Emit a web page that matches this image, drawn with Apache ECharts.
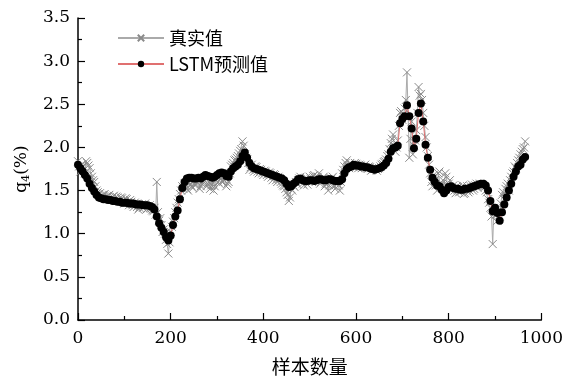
<!DOCTYPE html>
<html>
<head>
<meta charset="utf-8">
<script src="https://cdn.jsdelivr.net/npm/echarts@6/dist/echarts.min.js"></script>
<style>
  html, body { margin: 0; padding: 0; background: #fff; }
  #chart { width: 566px; height: 381px; }
</style>
</head>
<body>
<div id="chart"></div>
<script>
// 样本序号，每5个取一个点
const sampleIdx = [];
for (let i = 0; i <= 965; i += 5) sampleIdx.push(i);

// 真实值（整5处）
const trueVals = [
  1.84, 1.72, 1.78, 1.70, 1.82, 1.76, 1.66, 1.60, 1.50, 1.46,
  1.43, 1.45, 1.41, 1.44, 1.40, 1.43, 1.39, 1.42, 1.38, 1.41,
  1.35, 1.40, 1.33, 1.37, 1.31, 1.34, 1.28, 1.33, 1.30, 1.35,
  1.29, 1.33, 1.27, 1.30, 1.60, 1.15, 1.10, 1.05, 0.93, 0.77,
  1.02, 1.14, 1.25, 1.36, 1.46, 1.55, 1.58, 1.52, 1.60, 1.55,
  1.62, 1.58, 1.63, 1.55, 1.61, 1.66, 1.58, 1.52, 1.60, 1.55,
  1.64, 1.58, 1.68, 1.62, 1.55, 1.60, 1.78, 1.82, 1.86, 1.90,
  1.96, 2.07, 1.92, 1.86, 1.74, 1.80, 1.72, 1.77, 1.70, 1.74,
  1.68, 1.72, 1.66, 1.70, 1.62, 1.68, 1.60, 1.64, 1.58, 1.55,
  1.48, 1.38, 1.52, 1.56, 1.60, 1.62, 1.66, 1.58, 1.63, 1.57,
  1.66, 1.60, 1.68, 1.62, 1.70, 1.60, 1.66, 1.58, 1.50, 1.60,
  1.66, 1.52, 1.58, 1.50, 1.70, 1.78, 1.85, 1.76, 1.80, 1.77,
  1.81, 1.76, 1.79, 1.77, 1.80, 1.75, 1.77, 1.74, 1.76, 1.73,
  1.76, 1.80, 1.83, 1.86, 1.92, 2.05, 2.15, 1.95, 2.08, 2.40,
  2.32, 2.45, 2.87, 1.88, 2.30, 2.02, 2.20, 2.70, 2.62, 2.40,
  2.12, 1.90, 1.70, 1.55, 1.62, 1.50, 1.72, 1.58, 1.52, 1.66,
  1.58, 1.50, 1.56, 1.47, 1.54, 1.49, 1.56, 1.47, 1.55, 1.50,
  1.57, 1.52, 1.58, 1.55, 1.57, 1.55, 1.50, 1.40, 1.30, 0.88,
  1.25, 1.15, 1.20, 1.45, 1.40, 1.55, 1.50, 1.66, 1.72, 1.76,
  1.85, 1.92, 1.98, 2.07
];

// 真实值（x = 2.5, 7.5, ...）
const trueValsMid = [
  1.78, 1.80, 1.74, 1.84, 1.79, 1.70, 1.62, 1.55, 1.48, 1.47,
  1.42, 1.46, 1.43, 1.45, 1.41, 1.44, 1.43, 1.40, 1.42, 1.38,
  1.41, 1.37, 1.39, 1.33, 1.36, 1.31, 1.30, 1.34, 1.31, 1.28,
  1.32, 1.29, 1.26, 1.22, 1.25, 1.18, 1.02, 1.00, 0.88, 0.90,
  1.08, 1.18, 1.30, 1.40, 1.50, 1.52, 1.56, 1.50, 1.57, 1.53,
  1.56, 1.60, 1.52, 1.58, 1.62, 1.55, 1.60, 1.56, 1.50, 1.62,
  1.60, 1.64, 1.60, 1.65, 1.58, 1.70, 1.80, 1.85, 1.88, 1.93,
  1.98, 2.02, 1.88, 1.82, 1.77, 1.74, 1.78, 1.72, 1.75, 1.70,
  1.73, 1.68, 1.71, 1.65, 1.69, 1.62, 1.66, 1.60, 1.56, 1.52,
  1.45, 1.42, 1.50, 1.54, 1.58, 1.64, 1.60, 1.56, 1.65, 1.60,
  1.63, 1.67, 1.64, 1.66, 1.58, 1.64, 1.55, 1.62, 1.56, 1.64,
  1.55, 1.62, 1.56, 1.60, 1.74, 1.82, 1.78, 1.82, 1.78, 1.82,
  1.78, 1.80, 1.76, 1.79, 1.76, 1.78, 1.73, 1.75, 1.77, 1.75,
  1.78, 1.81, 1.84, 1.90, 1.98, 2.10, 2.02, 2.00, 2.25, 2.42,
  2.38, 2.55, 2.35, 2.10, 1.92, 2.08, 2.40, 2.60, 2.55, 2.25,
  2.00, 1.80, 1.60, 1.68, 1.56, 1.70, 1.54, 1.62, 1.70, 1.55,
  1.62, 1.52, 1.50, 1.55, 1.48, 1.53, 1.46, 1.52, 1.48, 1.55,
  1.50, 1.56, 1.53, 1.58, 1.56, 1.54, 1.48, 1.36, 1.20, 1.30,
  1.22, 1.30, 1.35, 1.48, 1.52, 1.58, 1.62, 1.70, 1.78, 1.82,
  1.88, 1.95, 2.00
];

// LSTM预测值
const predVals = [
  1.80, 1.76, 1.72, 1.68, 1.64, 1.58, 1.53, 1.49, 1.45, 1.42,
  1.41, 1.40, 1.40, 1.39, 1.39, 1.38, 1.38, 1.37, 1.37, 1.36,
  1.36, 1.36, 1.35, 1.35, 1.35, 1.34, 1.34, 1.34, 1.33, 1.33,
  1.33, 1.32, 1.31, 1.28, 1.20, 1.12, 1.07, 1.02, 0.96, 0.92,
  0.98, 1.10, 1.20, 1.27, 1.40, 1.53, 1.60, 1.64, 1.65, 1.65,
  1.64, 1.64, 1.65, 1.64, 1.66, 1.68, 1.67, 1.66, 1.65, 1.66,
  1.68, 1.70, 1.71, 1.70, 1.67, 1.66, 1.72, 1.76, 1.78, 1.80,
  1.84, 1.90, 1.94, 1.88, 1.82, 1.78, 1.76, 1.75, 1.74, 1.73,
  1.72, 1.71, 1.70, 1.69, 1.68, 1.67, 1.66, 1.65, 1.64, 1.62,
  1.58, 1.54, 1.55, 1.58, 1.60, 1.63, 1.64, 1.62, 1.61, 1.61,
  1.62, 1.62, 1.61, 1.62, 1.63, 1.63, 1.62, 1.62, 1.63, 1.63,
  1.62, 1.61, 1.61, 1.61, 1.63, 1.70, 1.75, 1.77, 1.78, 1.80,
  1.79, 1.79, 1.78, 1.78, 1.77, 1.77, 1.76, 1.75, 1.74, 1.75,
  1.76, 1.77, 1.79, 1.82, 1.87, 1.95, 1.99, 2.00, 2.02, 2.28,
  2.33, 2.36, 2.49, 2.36, 2.22, 1.99, 2.10, 2.40, 2.51, 2.30,
  2.03, 1.88, 1.74, 1.65, 1.60, 1.56, 1.55, 1.51, 1.47, 1.50,
  1.54, 1.55, 1.53, 1.52, 1.52, 1.51, 1.51, 1.52, 1.52, 1.53,
  1.54, 1.55, 1.56, 1.57, 1.58, 1.58, 1.56, 1.50, 1.38, 1.26,
  1.30, 1.24, 1.15, 1.25, 1.34, 1.42, 1.50, 1.58, 1.66, 1.72,
  1.78, 1.80, 1.86, 1.89
];

const numFont = '"DejaVu Serif", serif';
const cjkFont = '"Noto Sans CJK SC", sans-serif';
const crossPath = 'path://M0,0L10,10M10,0L0,10';

// 合并两组真实值，按样本序号排序
const truePairs = [];
sampleIdx.forEach((x, i) => {
  truePairs.push([x, trueVals[i]]);
  if (i < trueValsMid.length) truePairs.push([x + 2.5, trueValsMid[i]]);
});
const predPairs = sampleIdx.map((x, i) => [x, predVals[i]]);

const labelRich = { n: { fontFamily: numFont, fontSize: 17, color: '#000' } };

const chart = echarts.init(document.getElementById('chart'));

chart.setOption({
  animation: false,
  backgroundColor: '#fff',
  textStyle: { fontFamily: numFont },
  grid: { left: 78, right: 21, top: 18, bottom: 58 },
  legend: {
    orient: 'vertical',
    left: 112,
    top: 24,
    itemWidth: 46,
    itemHeight: 8,
    itemGap: 8,
    textStyle: { fontFamily: cjkFont, fontSize: 18, color: '#000' },
    data: ['真实值', 'LSTM预测值']
  },
  xAxis: {
    type: 'value',
    min: 0,
    max: 1000,
    interval: 200,
    name: '样本数量',
    nameLocation: 'middle',
    nameGap: 37,
    nameTextStyle: { fontFamily: cjkFont, fontSize: 19, color: '#000' },
    splitLine: { show: false },
    axisLine: { lineStyle: { color: '#000', width: 1.5 } },
    axisTick: { inside: true, length: 7, lineStyle: { color: '#000', width: 1.2 } },
    minorTick: { show: true, splitNumber: 2, length: 4, lineStyle: { color: '#000', width: 1.2 } },
    axisLabel: {
      margin: 10,
      rich: labelRich,
      formatter: v => '{n|' + v + '}'
    }
  },
  yAxis: {
    type: 'value',
    min: 0,
    max: 3.5,
    interval: 0.5,
    name: '{q|q}{s|4}{q|(%)}',
    nameLocation: 'middle',
    nameGap: 46,
    nameRotate: 90,
    nameTextStyle: {
      rich: {
        q: { fontFamily: numFont, fontSize: 17, color: '#000' },
        s: { fontFamily: numFont, fontSize: 11, color: '#000', padding: [10, 0, 0, 0] }
      }
    },
    splitLine: { show: false },
    axisLine: { show: true, lineStyle: { color: '#000', width: 1.5 } },
    axisTick: { show: true, inside: true, length: 7, lineStyle: { color: '#000', width: 1.2 } },
    minorTick: { show: true, splitNumber: 2, length: 4, lineStyle: { color: '#000', width: 1.2 } },
    axisLabel: {
      margin: 8,
      rich: labelRich,
      formatter: v => '{n|' + v.toFixed(1) + '}'
    }
  },
  series: [
    {
      name: '真实值',
      type: 'line',
      data: truePairs,
      symbol: crossPath,
      symbolSize: 8,
      showAllSymbol: true,
      lineStyle: { color: '#aaaaaa', width: 1 },
      itemStyle: { color: '#999999', borderColor: '#8a8a8a', borderWidth: 1 },
      z: 2
    },
    {
      name: 'LSTM预测值',
      type: 'line',
      data: predPairs,
      symbol: 'circle',
      symbolSize: 8,
      showAllSymbol: true,
      lineStyle: { color: '#e07070', width: 1 },
      itemStyle: { color: '#000' },
      z: 3
    }
  ]
});
</script>
</body>
</html>
